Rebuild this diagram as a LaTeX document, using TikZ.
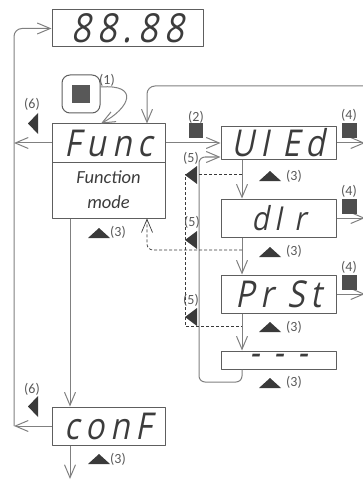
\documentclass[tikz,border=0pt]{standalone}
\usepackage{fontspec}
\setmainfont{Carlito}
\newfontfamily\segfont[FakeSlant=0.2,FakeStretch=0.85,LetterSpace=16]{Open Sans}
\usetikzlibrary{arrows.meta,calc}
\definecolor{linegray}{HTML}{808080}
\definecolor{boxgray}{HTML}{5E5E5E}
\definecolor{markgray}{HTML}{3A3A3A}
\definecolor{txtgray}{HTML}{3C3C3C}
\begin{document}
\begin{tikzpicture}[x=1pt,y=-1pt,>={Straight Barb[length=13pt,width=11pt]},
	line join=round,
	disp/.style={draw=boxgray,line width=1pt,inner sep=0pt,text=txtgray,
		font=\segfont\fontsize{37}{37}\selectfont},
	flow/.style={draw=linegray,line width=1pt},
	back/.style={draw=markgray,line width=0.7pt,dash pattern=on 3pt off 2pt},
	tag/.style={text=txtgray!85,inner sep=0pt,font=\fontsize{14}{15}\selectfont}]
	\useasboundingbox (0,0) rectangle (363,481);
	% displays
	\node[disp,minimum width=151pt,minimum height=37pt,font=\segfont\fontsize{40}{40}\selectfont] (top) at (127.5,28.5) {88.88};
	\node[disp,minimum width=113pt,minimum height=38pt] (func) at (108.5,143) {Func};
	\node[disp,minimum width=113pt,minimum height=56pt,align=center,
		font=\itshape\fontsize{18.5}{25}\selectfont] (fmode) at (108.5,190) {Function\\mode};
	\node[disp,minimum width=113pt,minimum height=38pt] (conf) at (108.5,426) {conF};
	\node[disp,minimum width=115pt,minimum height=32pt] (view) at (278.5,143) {UI\hspace{13pt}Ed};
	\node[disp,minimum width=115pt,minimum height=38pt,font=\segfont\fontsize{33}{33}\selectfont] (dir) at (278.5,218) {dI r};
	\node[disp,minimum width=115pt,minimum height=38pt] (prst) at (278.5,294) {Pr St};
	\node[disp,minimum width=115pt,minimum height=18pt] (dash) at (278.5,360) {-\hspace{14pt}-\hspace{14pt}-};
	% key (1)
	\node[draw=boxgray,line width=1pt,rounded corners=8pt,minimum size=38pt] (btn) at (81,94) {};
	\node[fill=markgray!85,minimum size=18pt,inner sep=0pt] (btnkey) at (btn) {};
	% helper points
	\coordinate (lx) at (14,0);
	\coordinate (cx) at (70,0);
	\coordinate (bx) at (101,0);
	\coordinate (lp) at (147,0);
	\coordinate (dl) at (185,0);
	\coordinate (fx) at (242,0);
	\coordinate (rx) at (365,0);
	\coordinate (rt) at (365,86);
	\coordinate (lb) at (199,382);
	\coordinate (cend) at (70,479);
	\coordinate (d1) at (242,174);
	\coordinate (d2) at (242,250);
	\coordinate (d3) at (242,326);
	% solid flow
	\draw[flow,->] (func.west) -- (func.west -| lx);
	\draw[flow,->] (conf.west) -- (conf.west -| lx);
	\draw[flow,->,rounded corners=8pt] (conf.west -| lx) |- (top.west);
	\draw[flow,->] (func.east) -- (view.west);
	\draw[flow,->] (fmode.south -| cx) -- (conf.north -| cx);
	\draw[flow,->] (conf.south -| cx) -- (cend);
	\draw[flow,->] ([yshift=7pt]btn.east) .. controls (140,84) and (130,108) .. (func.north -| bx);
	\draw[flow,->,rounded corners=8pt] (rt) -| (func.north -| lp);
	\draw[flow,->] (view.south -| fx) -- (dir.north -| fx);
	\draw[flow,->] (dir.south -| fx) -- (prst.north -| fx);
	\draw[flow,->] (prst.south -| fx) -- (dash.north -| fx);
	\draw[flow,->,rounded corners=6pt] (dash.south -| fx) |- (lb) |- ([yshift=-14pt]view.west);
	\foreach \b in {view,dir,prst} \draw[flow,->] (\b.east) -- (\b.east -| rx);
	% dashed returns
	\draw[back] (d1) -| (dl |- d3) -- (d3);
	\draw[back,->,rounded corners=6pt] (d2) -| (fmode.south -| lp);
	% keys
	\fill[markgray!90] (189,123) rectangle (203,138);
	\foreach \y in {123,199,275} \fill[markgray!90] (342,\y) rectangle ++(15,15);
	\foreach \y in {113,396} \fill[markgray] (38,\y) -- (28,\y+10.5) -- (38,\y+21) -- cycle;
	\foreach \y in {166,231,308} \fill[markgray] (197,\y) -- (185,\y+9) -- (197,\y+18) -- cycle;
	\foreach \x/\y in {88/238,88/464,259/181,259/257,259/332,259/388}
		\fill[markgray] (\x,\y) -- ++(22,0) -- ++(-11,-10) -- cycle;
	% key labels
	\node[tag] (l1) at (107,80) {(1)};
	\node[tag] (l2) at (196,117) {(2)};
	\node[tag] (l3a) at (118,232) {(3)};
	\node[tag] (l3b) at (118,459) {(3)};
	\node[tag] (l3c) at (294,176) {(3)};
	\node[tag] (l3d) at (294,251) {(3)};
	\node[tag] (l3e) at (294,327) {(3)};
	\node[tag] (l3f) at (294,382) {(3)};
	\node[tag] (l4a) at (349,115) {(4)};
	\node[tag] (l4b) at (349,191) {(4)};
	\node[tag] (l4c) at (349,267) {(4)};
	\node[tag] (l5a) at (191,158) {(5)};
	\node[tag] (l5b) at (192,222) {(5)};
	\node[tag] (l5c) at (191,300) {(5)};
	\node[tag] (l6a) at (32,104) {(6)};
	\node[tag] (l6b) at (32,389) {(6)};
\end{tikzpicture}
\end{document}
